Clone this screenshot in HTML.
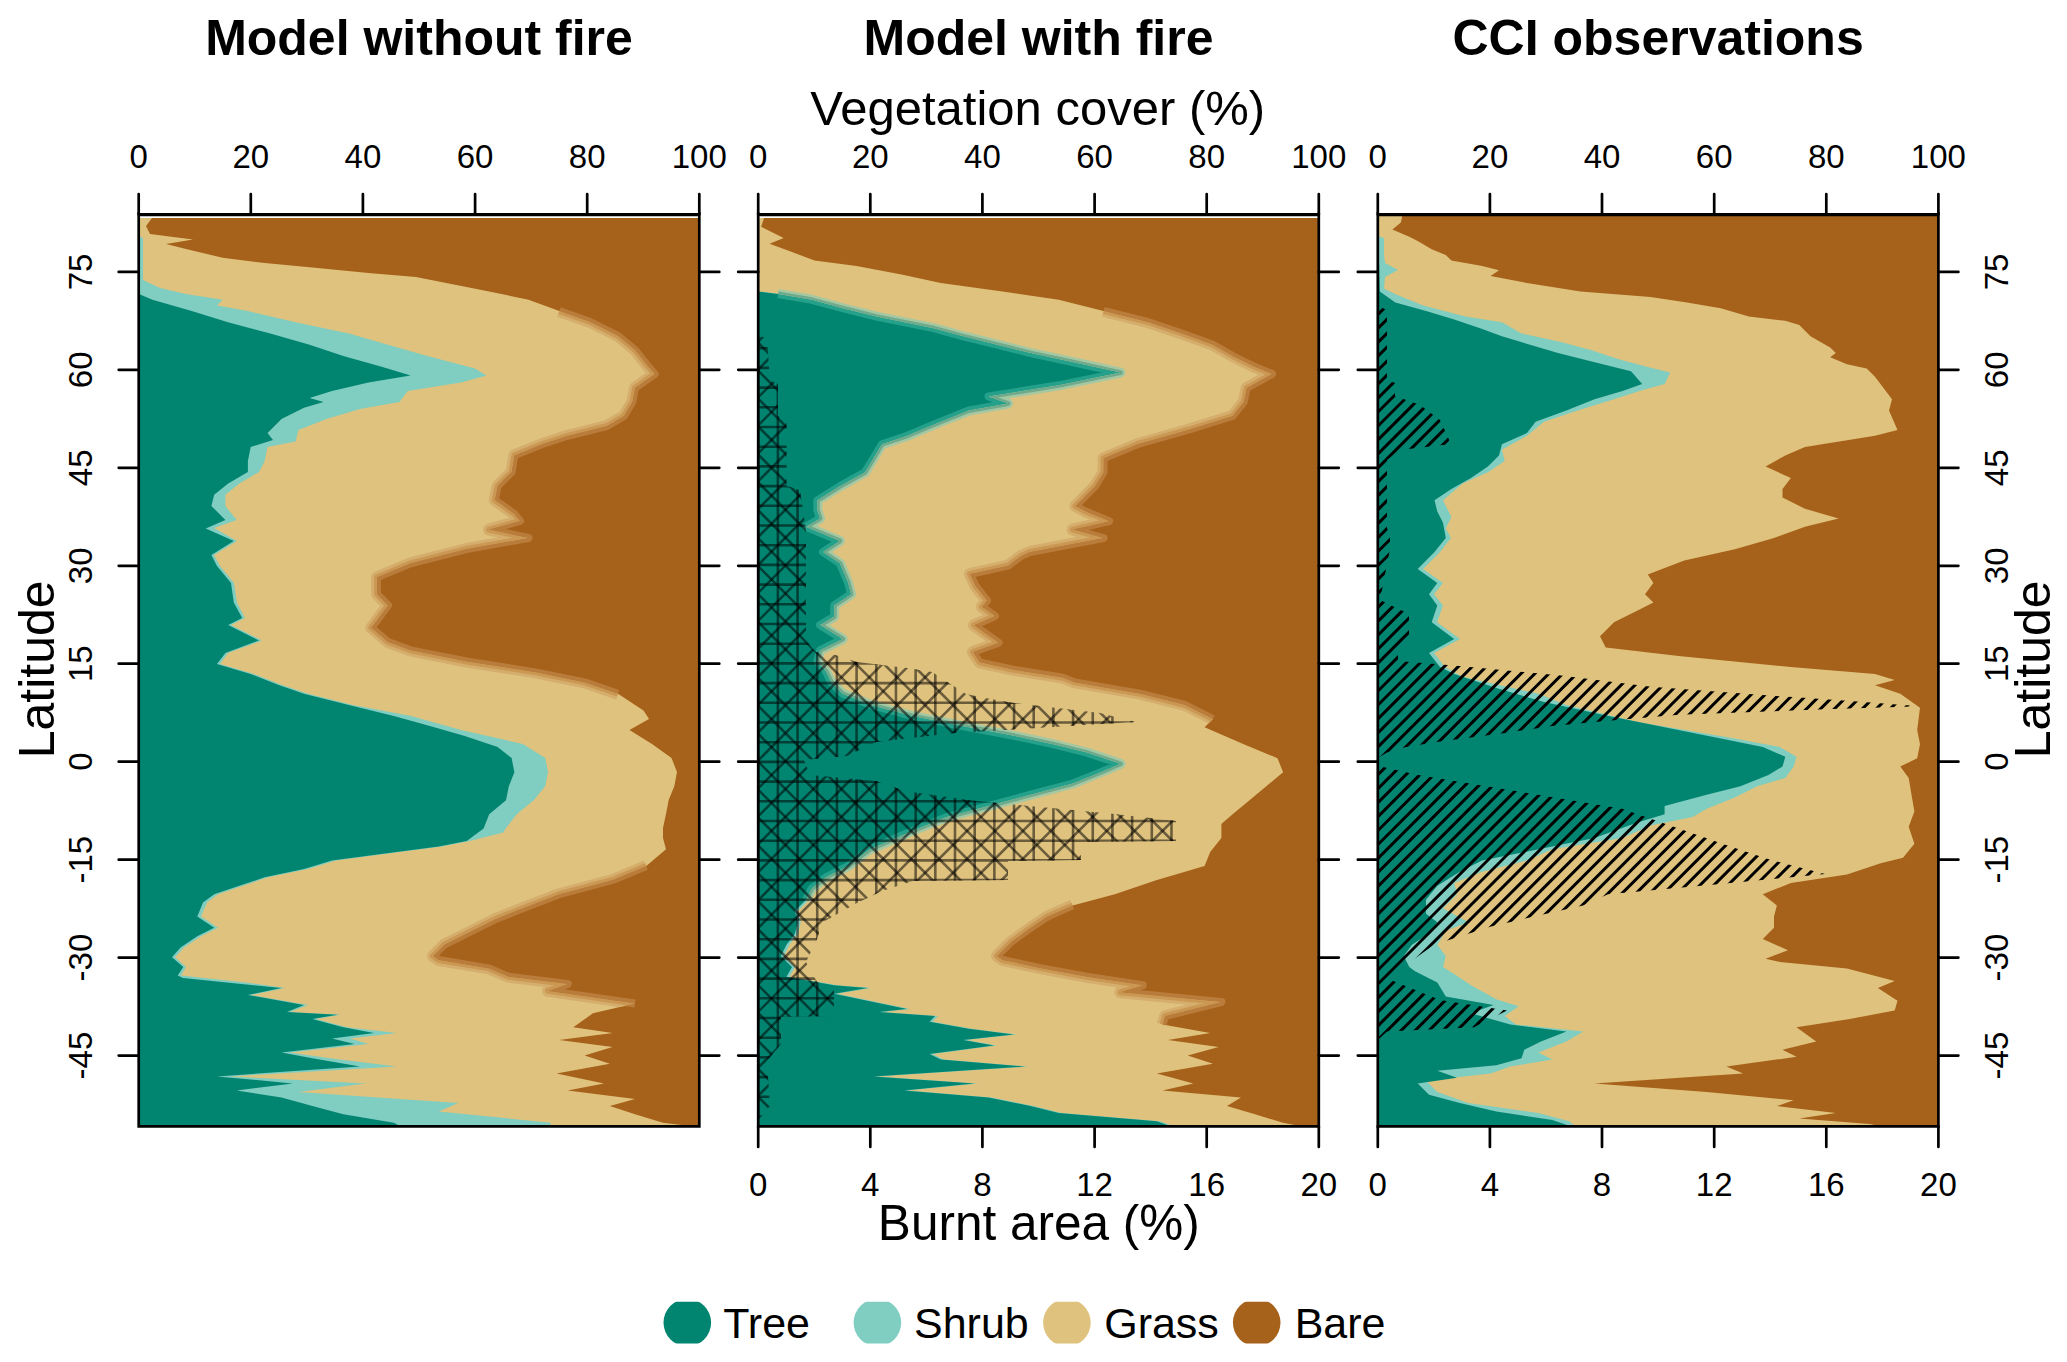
<!DOCTYPE html><html><head><meta charset="utf-8"><style>html,body{margin:0;padding:0;background:#fff;overflow:hidden}svg{display:block}</style></head><body>
<svg width="2067" height="1362" viewBox="0 0 2067 1362" font-family="'Liberation Sans', sans-serif">
<rect width="2067" height="1362" fill="#fff"/>
<clipPath id="pc0"><rect x="138.7" y="218" width="560.6" height="908.4000000000001"/></clipPath>
<rect x="138.7" y="218" width="560.6" height="908.4000000000001" fill="#A6611A"/>
<polygon points="138.7,218.0 152.0,218.0 146.0,226.0 150.0,234.0 193.0,239.5 166.0,244.0 186.0,249.0 222.6,257.7 264.7,263.0 312.4,267.5 368.5,273.0 416.0,277.0 438.7,281.6 489.2,291.4 528.5,299.8 559.3,311.0 590.2,322.0 618.2,336.0 635.0,350.0 646.3,364.3 654.7,374.0 635.0,388.0 632.3,402.0 624.0,416.0 607.0,426.0 567.7,435.8 542.5,444.0 514.4,455.4 511.6,472.0 497.6,486.0 494.8,500.0 514.4,514.0 520.0,521.0 489.0,529.6 528.5,538.0 466.7,549.0 410.6,563.3 377.0,577.3 377.0,594.0 388.0,605.4 371.3,627.8 388.0,642.0 410.6,650.3 466.7,661.5 537.0,672.6 584.6,682.4 618.0,693.7 643.5,710.5 649.0,719.0 629.5,730.0 652.0,744.0 671.5,758.0 677.0,772.0 674.4,786.0 668.7,800.0 666.0,814.0 663.0,828.0 663.0,838.0 666.0,849.3 646.3,866.0 612.6,880.0 559.3,894.2 522.8,908.2 494.8,919.4 466.7,933.5 444.3,944.7 433.0,956.0 438.7,960.0 489.0,968.4 508.8,976.8 567.7,983.9 548.0,990.9 635.0,1003.5 593.0,1013.3 573.3,1027.3 612.6,1033.0 559.3,1040.0 612.6,1047.0 584.6,1055.4 609.8,1063.8 556.5,1073.6 604.0,1083.5 567.7,1090.5 635.0,1098.9 609.8,1106.0 635.0,1114.3 663.0,1122.7 690.0,1126.0 138.7,1126.0" fill="#DFC27D" />
<clipPath id="gs0"><polygon points="138.7,217.0 152.0,218.0 146.0,226.0 150.0,234.0 193.0,239.5 166.0,244.0 186.0,249.0 222.6,257.7 264.7,263.0 312.4,267.5 368.5,273.0 416.0,277.0 438.7,281.6 489.2,291.4 528.5,299.8 559.3,311.0 590.2,322.0 618.2,336.0 635.0,350.0 646.3,364.3 654.7,374.0 635.0,388.0 632.3,402.0 624.0,416.0 607.0,426.0 567.7,435.8 542.5,444.0 514.4,455.4 511.6,472.0 497.6,486.0 494.8,500.0 514.4,514.0 520.0,521.0 489.0,529.6 528.5,538.0 466.7,549.0 410.6,563.3 377.0,577.3 377.0,594.0 388.0,605.4 371.3,627.8 388.0,642.0 410.6,650.3 466.7,661.5 537.0,672.6 584.6,682.4 618.0,693.7 643.5,710.5 649.0,719.0 629.5,730.0 652.0,744.0 671.5,758.0 677.0,772.0 674.4,786.0 668.7,800.0 666.0,814.0 663.0,828.0 663.0,838.0 666.0,849.3 646.3,866.0 612.6,880.0 559.3,894.2 522.8,908.2 494.8,919.4 466.7,933.5 444.3,944.7 433.0,956.0 438.7,960.0 489.0,968.4 508.8,976.8 567.7,983.9 548.0,990.9 635.0,1003.5 593.0,1013.3 573.3,1027.3 612.6,1033.0 559.3,1040.0 612.6,1047.0 584.6,1055.4 609.8,1063.8 556.5,1073.6 604.0,1083.5 567.7,1090.5 635.0,1098.9 609.8,1106.0 635.0,1114.3 663.0,1122.7 690.0,1126.0 138.7,1127.0"/></clipPath><clipPath id="bs0"><polygon points="699.3,217.0 152.0,218.0 146.0,226.0 150.0,234.0 193.0,239.5 166.0,244.0 186.0,249.0 222.6,257.7 264.7,263.0 312.4,267.5 368.5,273.0 416.0,277.0 438.7,281.6 489.2,291.4 528.5,299.8 559.3,311.0 590.2,322.0 618.2,336.0 635.0,350.0 646.3,364.3 654.7,374.0 635.0,388.0 632.3,402.0 624.0,416.0 607.0,426.0 567.7,435.8 542.5,444.0 514.4,455.4 511.6,472.0 497.6,486.0 494.8,500.0 514.4,514.0 520.0,521.0 489.0,529.6 528.5,538.0 466.7,549.0 410.6,563.3 377.0,577.3 377.0,594.0 388.0,605.4 371.3,627.8 388.0,642.0 410.6,650.3 466.7,661.5 537.0,672.6 584.6,682.4 618.0,693.7 643.5,710.5 649.0,719.0 629.5,730.0 652.0,744.0 671.5,758.0 677.0,772.0 674.4,786.0 668.7,800.0 666.0,814.0 663.0,828.0 663.0,838.0 666.0,849.3 646.3,866.0 612.6,880.0 559.3,894.2 522.8,908.2 494.8,919.4 466.7,933.5 444.3,944.7 433.0,956.0 438.7,960.0 489.0,968.4 508.8,976.8 567.7,983.9 548.0,990.9 635.0,1003.5 593.0,1013.3 573.3,1027.3 612.6,1033.0 559.3,1040.0 612.6,1047.0 584.6,1055.4 609.8,1063.8 556.5,1073.6 604.0,1083.5 567.7,1090.5 635.0,1098.9 609.8,1106.0 635.0,1114.3 663.0,1122.7 690.0,1126.0 699.3,1127.0"/></clipPath>
<g clip-path="url(#pc0)"><g clip-path="url(#gs0)"><polyline points="559.3,311.0 590.2,322.0 618.2,336.0 635.0,350.0 646.3,364.3 654.7,374.0 635.0,388.0 632.3,402.0 624.0,416.0 607.0,426.0 567.7,435.8 542.5,444.0 514.4,455.4 511.6,472.0 497.6,486.0 494.8,500.0 514.4,514.0 520.0,521.0 489.0,529.6 528.5,538.0 466.7,549.0 410.6,563.3 377.0,577.3 377.0,594.0 388.0,605.4 371.3,627.8 388.0,642.0 410.6,650.3 466.7,661.5 537.0,672.6 584.6,682.4 618.0,693.7" fill="none" stroke="#D5AE6D" stroke-width="12" stroke-linejoin="round"/><polyline points="559.3,311.0 590.2,322.0 618.2,336.0 635.0,350.0 646.3,364.3 654.7,374.0 635.0,388.0 632.3,402.0 624.0,416.0 607.0,426.0 567.7,435.8 542.5,444.0 514.4,455.4 511.6,472.0 497.6,486.0 494.8,500.0 514.4,514.0 520.0,521.0 489.0,529.6 528.5,538.0 466.7,549.0 410.6,563.3 377.0,577.3 377.0,594.0 388.0,605.4 371.3,627.8 388.0,642.0 410.6,650.3 466.7,661.5 537.0,672.6 584.6,682.4 618.0,693.7" fill="none" stroke="#CA9853" stroke-width="6" stroke-linejoin="round"/></g><g clip-path="url(#bs0)"><polyline points="559.3,311.0 590.2,322.0 618.2,336.0 635.0,350.0 646.3,364.3 654.7,374.0 635.0,388.0 632.3,402.0 624.0,416.0 607.0,426.0 567.7,435.8 542.5,444.0 514.4,455.4 511.6,472.0 497.6,486.0 494.8,500.0 514.4,514.0 520.0,521.0 489.0,529.6 528.5,538.0 466.7,549.0 410.6,563.3 377.0,577.3 377.0,594.0 388.0,605.4 371.3,627.8 388.0,642.0 410.6,650.3 466.7,661.5 537.0,672.6 584.6,682.4 618.0,693.7" fill="none" stroke="#B97C3B" stroke-width="8" stroke-linejoin="round"/></g></g>
<g clip-path="url(#pc0)"><g clip-path="url(#gs0)"><polyline points="646.3,866.0 612.6,880.0 559.3,894.2 522.8,908.2 494.8,919.4 466.7,933.5 444.3,944.7 433.0,956.0 438.7,960.0 489.0,968.4 508.8,976.8 567.7,983.9 548.0,990.9 635.0,1003.5" fill="none" stroke="#D5AE6D" stroke-width="12" stroke-linejoin="round"/><polyline points="646.3,866.0 612.6,880.0 559.3,894.2 522.8,908.2 494.8,919.4 466.7,933.5 444.3,944.7 433.0,956.0 438.7,960.0 489.0,968.4 508.8,976.8 567.7,983.9 548.0,990.9 635.0,1003.5" fill="none" stroke="#CA9853" stroke-width="6" stroke-linejoin="round"/></g><g clip-path="url(#bs0)"><polyline points="646.3,866.0 612.6,880.0 559.3,894.2 522.8,908.2 494.8,919.4 466.7,933.5 444.3,944.7 433.0,956.0 438.7,960.0 489.0,968.4 508.8,976.8 567.7,983.9 548.0,990.9 635.0,1003.5" fill="none" stroke="#B97C3B" stroke-width="8" stroke-linejoin="round"/></g></g>
<polygon points="138.7,218.0 139.0,218.0 139.0,236.0 143.0,238.0 143.0,280.0 160.0,288.0 186.0,294.0 222.6,299.8 217.0,305.4 247.9,311.0 295.6,322.2 348.9,333.5 388.0,344.7 427.4,356.0 475.0,368.4 486.4,375.4 461.0,382.4 407.8,390.9 399.4,402.0 360.0,409.0 326.4,418.9 298.4,430.0 295.6,441.4 267.5,447.0 264.7,461.0 259.0,472.0 239.4,483.5 225.4,494.7 225.4,506.0 236.6,520.0 214.0,528.0 237.0,540.9 214.0,555.0 220.0,566.0 234.0,583.0 237.0,602.6 245.0,618.0 231.0,625.0 262.0,640.5 228.0,653.0 220.0,664.0 254.0,674.0 282.0,685.0 308.0,693.7 353.0,705.0 411.0,716.0 461.0,730.0 522.8,744.0 545.3,758.0 548.0,772.0 545.3,786.0 534.0,800.0 517.0,814.0 506.0,828.0 503.2,832.4 470.0,840.9 442.0,846.5 400.0,852.0 336.0,860.5 308.0,869.0 268.0,877.3 243.0,885.8 218.0,894.2 207.0,902.6 201.0,916.6 218.0,927.8 201.0,936.3 184.0,947.5 175.0,957.3 186.0,967.0 181.0,975.5 246.0,982.4 285.0,988.0 251.0,995.0 308.0,1005.0 290.0,1012.0 341.0,1014.7 316.0,1019.0 347.0,1027.3 396.6,1033.0 350.0,1038.6 368.5,1044.0 290.0,1052.6 330.0,1058.2 396.6,1066.6 230.0,1076.4 365.7,1083.5 298.4,1092.0 458.3,1103.0 438.7,1111.5 550.9,1122.7 550.0,1126.0 138.7,1126.0" fill="#80CDC1" />
<polygon points="138.7,218.0 139.0,218.0 139.0,294.0 152.4,299.8 191.7,311.0 228.0,322.2 270.3,333.5 309.6,344.7 343.3,356.0 382.5,367.0 410.6,375.4 368.5,382.4 332.0,390.9 309.6,397.9 323.6,402.0 304.0,407.7 281.5,418.9 267.5,433.0 273.0,440.0 250.7,447.0 247.9,461.0 247.9,472.0 228.2,483.5 214.2,494.7 211.4,505.9 225.4,520.0 205.8,528.4 233.8,540.9 211.4,555.0 217.0,566.0 231.0,583.0 233.8,602.6 242.2,618.0 228.2,625.0 259.0,640.5 225.4,653.0 217.0,664.0 250.7,674.0 278.7,685.0 304.0,693.7 348.9,705.0 393.8,716.0 424.6,724.5 464.0,735.8 497.6,747.0 511.6,758.0 514.4,772.2 508.8,786.3 506.0,800.3 489.2,814.3 483.6,828.4 466.7,840.9 438.7,846.5 396.6,852.0 332.0,860.5 304.0,869.0 264.7,877.3 239.4,885.8 214.2,894.2 203.0,902.6 197.3,916.6 214.2,927.8 197.3,936.3 180.5,947.5 172.0,957.3 183.3,967.0 177.7,975.5 183.0,978.0 281.5,988.0 247.9,995.0 304.0,1005.0 287.0,1012.0 337.6,1014.7 312.4,1019.0 343.3,1027.3 374.0,1033.0 332.0,1038.6 354.5,1044.0 281.5,1052.6 312.4,1058.2 360.0,1066.6 217.0,1076.4 292.7,1083.5 236.6,1090.5 281.5,1097.5 312.4,1106.0 343.3,1114.3 393.8,1122.7 400.0,1126.0 138.7,1126.0" fill="#018571" />
<clipPath id="pc1"><rect x="758.2" y="218" width="560.6" height="908.4000000000001"/></clipPath>
<rect x="758.2" y="218" width="560.6" height="908.4000000000001" fill="#A6611A"/>
<polygon points="758.2,218.0 764.0,218.0 761.2,226.8 783.7,238.0 769.6,243.7 792.0,252.0 814.5,260.5 856.6,266.0 901.5,274.5 940.8,283.0 1002.5,291.4 1058.7,299.8 1103.6,311.0 1148.5,322.2 1182.0,333.5 1213.0,344.7 1232.6,356.0 1255.0,367.0 1272.0,374.0 1246.7,388.0 1243.8,402.0 1232.6,416.0 1187.7,430.0 1137.2,444.2 1103.6,458.2 1103.6,472.2 1095.0,486.3 1075.5,506.0 1086.7,512.0 1109.2,521.2 1072.7,529.6 1103.6,538.0 1030.0,552.0 1022.0,555.4 1008.0,565.7 970.0,574.0 975.5,586.0 987.0,600.6 982.0,606.8 995.0,616.0 974.0,625.3 998.6,642.8 973.0,652.0 979.6,662.3 1012.0,669.5 1063.0,677.7 1075.0,682.4 1140.0,693.7 1185.0,705.0 1213.0,719.0 1204.6,727.3 1243.8,744.2 1277.5,758.2 1283.1,772.2 1266.3,786.3 1249.5,800.3 1232.6,814.3 1221.4,824.0 1221.4,838.0 1210.2,852.0 1204.6,866.0 1156.9,880.0 1114.8,894.2 1072.7,905.4 1047.4,916.6 1030.6,927.8 1011.0,942.0 997.0,956.0 1002.5,960.0 1041.8,968.4 1086.7,976.8 1142.8,985.3 1120.4,992.3 1221.4,1002.0 1165.3,1016.0 1162.5,1024.5 1210.2,1033.0 1168.0,1040.0 1218.6,1047.0 1187.7,1055.4 1213.0,1063.8 1156.9,1073.6 1193.3,1083.5 1162.5,1090.5 1241.0,1097.5 1227.0,1106.0 1255.0,1114.3 1283.0,1122.7 1300.0,1126.0 758.2,1126.0" fill="#DFC27D" />
<clipPath id="gs1"><polygon points="758.2,217.0 764.0,218.0 761.2,226.8 783.7,238.0 769.6,243.7 792.0,252.0 814.5,260.5 856.6,266.0 901.5,274.5 940.8,283.0 1002.5,291.4 1058.7,299.8 1103.6,311.0 1148.5,322.2 1182.0,333.5 1213.0,344.7 1232.6,356.0 1255.0,367.0 1272.0,374.0 1246.7,388.0 1243.8,402.0 1232.6,416.0 1187.7,430.0 1137.2,444.2 1103.6,458.2 1103.6,472.2 1095.0,486.3 1075.5,506.0 1086.7,512.0 1109.2,521.2 1072.7,529.6 1103.6,538.0 1030.0,552.0 1022.0,555.4 1008.0,565.7 970.0,574.0 975.5,586.0 987.0,600.6 982.0,606.8 995.0,616.0 974.0,625.3 998.6,642.8 973.0,652.0 979.6,662.3 1012.0,669.5 1063.0,677.7 1075.0,682.4 1140.0,693.7 1185.0,705.0 1213.0,719.0 1204.6,727.3 1243.8,744.2 1277.5,758.2 1283.1,772.2 1266.3,786.3 1249.5,800.3 1232.6,814.3 1221.4,824.0 1221.4,838.0 1210.2,852.0 1204.6,866.0 1156.9,880.0 1114.8,894.2 1072.7,905.4 1047.4,916.6 1030.6,927.8 1011.0,942.0 997.0,956.0 1002.5,960.0 1041.8,968.4 1086.7,976.8 1142.8,985.3 1120.4,992.3 1221.4,1002.0 1165.3,1016.0 1162.5,1024.5 1210.2,1033.0 1168.0,1040.0 1218.6,1047.0 1187.7,1055.4 1213.0,1063.8 1156.9,1073.6 1193.3,1083.5 1162.5,1090.5 1241.0,1097.5 1227.0,1106.0 1255.0,1114.3 1283.0,1122.7 1300.0,1126.0 758.2,1127.0"/></clipPath><clipPath id="bs1"><polygon points="1318.8,217.0 764.0,218.0 761.2,226.8 783.7,238.0 769.6,243.7 792.0,252.0 814.5,260.5 856.6,266.0 901.5,274.5 940.8,283.0 1002.5,291.4 1058.7,299.8 1103.6,311.0 1148.5,322.2 1182.0,333.5 1213.0,344.7 1232.6,356.0 1255.0,367.0 1272.0,374.0 1246.7,388.0 1243.8,402.0 1232.6,416.0 1187.7,430.0 1137.2,444.2 1103.6,458.2 1103.6,472.2 1095.0,486.3 1075.5,506.0 1086.7,512.0 1109.2,521.2 1072.7,529.6 1103.6,538.0 1030.0,552.0 1022.0,555.4 1008.0,565.7 970.0,574.0 975.5,586.0 987.0,600.6 982.0,606.8 995.0,616.0 974.0,625.3 998.6,642.8 973.0,652.0 979.6,662.3 1012.0,669.5 1063.0,677.7 1075.0,682.4 1140.0,693.7 1185.0,705.0 1213.0,719.0 1204.6,727.3 1243.8,744.2 1277.5,758.2 1283.1,772.2 1266.3,786.3 1249.5,800.3 1232.6,814.3 1221.4,824.0 1221.4,838.0 1210.2,852.0 1204.6,866.0 1156.9,880.0 1114.8,894.2 1072.7,905.4 1047.4,916.6 1030.6,927.8 1011.0,942.0 997.0,956.0 1002.5,960.0 1041.8,968.4 1086.7,976.8 1142.8,985.3 1120.4,992.3 1221.4,1002.0 1165.3,1016.0 1162.5,1024.5 1210.2,1033.0 1168.0,1040.0 1218.6,1047.0 1187.7,1055.4 1213.0,1063.8 1156.9,1073.6 1193.3,1083.5 1162.5,1090.5 1241.0,1097.5 1227.0,1106.0 1255.0,1114.3 1283.0,1122.7 1300.0,1126.0 1318.8,1127.0"/></clipPath>
<g clip-path="url(#pc1)"><g clip-path="url(#gs1)"><polyline points="1103.6,311.0 1148.5,322.2 1182.0,333.5 1213.0,344.7 1232.6,356.0 1255.0,367.0 1272.0,374.0 1246.7,388.0 1243.8,402.0 1232.6,416.0 1187.7,430.0 1137.2,444.2 1103.6,458.2 1103.6,472.2 1095.0,486.3 1075.5,506.0 1086.7,512.0 1109.2,521.2 1072.7,529.6 1103.6,538.0 1030.0,552.0 1022.0,555.4 1008.0,565.7 970.0,574.0 975.5,586.0 987.0,600.6 982.0,606.8 995.0,616.0 974.0,625.3 998.6,642.8 973.0,652.0 979.6,662.3 1012.0,669.5 1063.0,677.7 1075.0,682.4 1140.0,693.7 1185.0,705.0 1213.0,719.0" fill="none" stroke="#D5AE6D" stroke-width="12" stroke-linejoin="round"/><polyline points="1103.6,311.0 1148.5,322.2 1182.0,333.5 1213.0,344.7 1232.6,356.0 1255.0,367.0 1272.0,374.0 1246.7,388.0 1243.8,402.0 1232.6,416.0 1187.7,430.0 1137.2,444.2 1103.6,458.2 1103.6,472.2 1095.0,486.3 1075.5,506.0 1086.7,512.0 1109.2,521.2 1072.7,529.6 1103.6,538.0 1030.0,552.0 1022.0,555.4 1008.0,565.7 970.0,574.0 975.5,586.0 987.0,600.6 982.0,606.8 995.0,616.0 974.0,625.3 998.6,642.8 973.0,652.0 979.6,662.3 1012.0,669.5 1063.0,677.7 1075.0,682.4 1140.0,693.7 1185.0,705.0 1213.0,719.0" fill="none" stroke="#CA9853" stroke-width="6" stroke-linejoin="round"/></g><g clip-path="url(#bs1)"><polyline points="1103.6,311.0 1148.5,322.2 1182.0,333.5 1213.0,344.7 1232.6,356.0 1255.0,367.0 1272.0,374.0 1246.7,388.0 1243.8,402.0 1232.6,416.0 1187.7,430.0 1137.2,444.2 1103.6,458.2 1103.6,472.2 1095.0,486.3 1075.5,506.0 1086.7,512.0 1109.2,521.2 1072.7,529.6 1103.6,538.0 1030.0,552.0 1022.0,555.4 1008.0,565.7 970.0,574.0 975.5,586.0 987.0,600.6 982.0,606.8 995.0,616.0 974.0,625.3 998.6,642.8 973.0,652.0 979.6,662.3 1012.0,669.5 1063.0,677.7 1075.0,682.4 1140.0,693.7 1185.0,705.0 1213.0,719.0" fill="none" stroke="#B97C3B" stroke-width="8" stroke-linejoin="round"/></g></g>
<g clip-path="url(#pc1)"><g clip-path="url(#gs1)"><polyline points="1072.7,905.4 1047.4,916.6 1030.6,927.8 1011.0,942.0 997.0,956.0 1002.5,960.0 1041.8,968.4 1086.7,976.8 1142.8,985.3 1120.4,992.3 1221.4,1002.0 1165.3,1016.0 1162.5,1024.5" fill="none" stroke="#D5AE6D" stroke-width="12" stroke-linejoin="round"/><polyline points="1072.7,905.4 1047.4,916.6 1030.6,927.8 1011.0,942.0 997.0,956.0 1002.5,960.0 1041.8,968.4 1086.7,976.8 1142.8,985.3 1120.4,992.3 1221.4,1002.0 1165.3,1016.0 1162.5,1024.5" fill="none" stroke="#CA9853" stroke-width="6" stroke-linejoin="round"/></g><g clip-path="url(#bs1)"><polyline points="1072.7,905.4 1047.4,916.6 1030.6,927.8 1011.0,942.0 997.0,956.0 1002.5,960.0 1041.8,968.4 1086.7,976.8 1142.8,985.3 1120.4,992.3 1221.4,1002.0 1165.3,1016.0 1162.5,1024.5" fill="none" stroke="#B97C3B" stroke-width="8" stroke-linejoin="round"/></g></g>
<polygon points="758.2,218.0 758.2,218.0 758.4,291.4 781.0,294.0 814.7,299.8 845.6,308.2 879.3,316.6 935.4,327.9 966.3,336.3 1000.0,344.7 1033.6,353.1 1072.9,361.5 1123.4,372.6 1061.7,385.3 991.5,396.5 1011.0,403.5 971.9,410.5 943.8,421.7 910.1,435.8 884.9,444.2 876.5,458.2 868.0,472.2 842.8,486.3 820.3,500.3 820.3,510.0 823.0,518.4 809.0,526.8 842.8,540.9 826.0,552.0 842.8,563.3 851.2,583.0 854.0,594.2 837.2,605.4 837.2,616.6 823.0,625.0 845.6,639.0 823.0,650.3 820.3,661.5 828.8,671.2 834.4,682.4 845.6,693.7 876.7,705.0 918.7,716.1 974.9,727.3 1019.8,735.8 1059.0,744.2 1092.7,752.6 1126.4,763.8 1106.8,772.2 1078.7,783.5 1036.6,794.7 994.5,806.0 952.4,817.1 924.4,828.4 899.0,838.0 873.0,849.3 865.2,855.0 851.2,866.0 828.8,877.3 814.7,888.6 809.0,899.8 798.0,911.0 800.7,922.2 798.0,933.5 789.5,944.7 783.9,956.0 795.0,967.0 789.5,976.8 837.2,985.3 870.9,988.0 837.2,993.7 876.5,1002.0 910.0,1009.0 882.0,1012.0 938.0,1016.0 932.6,1021.7 971.9,1028.7 1016.8,1034.4 966.3,1040.0 997.0,1045.6 932.6,1054.0 943.8,1059.6 1028.0,1066.6 876.5,1076.4 977.5,1083.5 907.3,1090.5 991.5,1097.5 1033.6,1106.0 1061.7,1113.0 1159.9,1121.3 1173.0,1126.0 758.2,1126.0" fill="#80CDC1" />
<polygon points="758.2,218.0 758.2,218.0 758.4,291.4 778.0,294.0 811.7,299.8 842.6,308.2 876.3,316.6 932.4,327.9 963.3,336.3 997.0,344.7 1030.6,353.1 1069.9,361.5 1120.4,372.6 1058.7,385.3 988.5,396.5 1008.0,403.5 968.9,410.5 940.8,421.7 907.1,435.8 881.9,444.2 873.5,458.2 865.0,472.2 839.8,486.3 817.3,500.3 817.3,510.0 820.0,518.4 806.0,526.8 839.8,540.9 823.0,552.0 839.8,563.3 848.2,583.0 851.0,594.2 834.2,605.4 834.2,616.6 820.0,625.0 842.6,639.0 820.0,650.3 817.3,661.5 825.8,671.2 831.4,682.4 842.6,693.7 870.7,705.0 912.7,716.1 968.9,727.3 1013.8,735.8 1053.0,744.2 1086.7,752.6 1120.4,763.8 1100.8,772.2 1072.7,783.5 1030.6,794.7 988.5,806.0 946.4,817.1 918.4,828.4 896.0,838.0 870.0,849.3 862.2,855.0 848.2,866.0 825.8,877.3 811.7,888.6 806.0,899.8 795.0,911.0 797.7,922.2 795.0,933.5 786.5,944.7 780.9,956.0 792.0,967.0 786.5,976.8 834.2,985.3 867.9,988.0 834.2,993.7 873.5,1002.0 907.0,1009.0 879.0,1012.0 935.0,1016.0 929.6,1021.7 968.9,1028.7 1013.8,1034.4 963.3,1040.0 994.0,1045.6 929.6,1054.0 940.8,1059.6 1025.0,1066.6 873.5,1076.4 974.5,1083.5 904.3,1090.5 988.5,1097.5 1030.6,1106.0 1058.7,1113.0 1156.9,1121.3 1170.0,1126.0 758.2,1126.0" fill="#018571" />
<clipPath id="ti1"><polygon points="758.2,217.0 758.2,218.0 758.4,291.4 778.0,294.0 811.7,299.8 842.6,308.2 876.3,316.6 932.4,327.9 963.3,336.3 997.0,344.7 1030.6,353.1 1069.9,361.5 1120.4,372.6 1058.7,385.3 988.5,396.5 1008.0,403.5 968.9,410.5 940.8,421.7 907.1,435.8 881.9,444.2 873.5,458.2 865.0,472.2 839.8,486.3 817.3,500.3 817.3,510.0 820.0,518.4 806.0,526.8 839.8,540.9 823.0,552.0 839.8,563.3 848.2,583.0 851.0,594.2 834.2,605.4 834.2,616.6 820.0,625.0 842.6,639.0 820.0,650.3 817.3,661.5 825.8,671.2 831.4,682.4 842.6,693.7 870.7,705.0 912.7,716.1 968.9,727.3 1013.8,735.8 1053.0,744.2 1086.7,752.6 1120.4,763.8 1100.8,772.2 1072.7,783.5 1030.6,794.7 988.5,806.0 946.4,817.1 918.4,828.4 896.0,838.0 870.0,849.3 862.2,855.0 848.2,866.0 825.8,877.3 811.7,888.6 806.0,899.8 795.0,911.0 797.7,922.2 795.0,933.5 786.5,944.7 780.9,956.0 792.0,967.0 786.5,976.8 834.2,985.3 867.9,988.0 834.2,993.7 873.5,1002.0 907.0,1009.0 879.0,1012.0 935.0,1016.0 929.6,1021.7 968.9,1028.7 1013.8,1034.4 963.3,1040.0 994.0,1045.6 929.6,1054.0 940.8,1059.6 1025.0,1066.6 873.5,1076.4 974.5,1083.5 904.3,1090.5 988.5,1097.5 1030.6,1106.0 1058.7,1113.0 1156.9,1121.3 1170.0,1126.0 758.2,1127.0"/></clipPath><clipPath id="to1"><polygon points="1318.8,217.0 758.2,218.0 758.4,291.4 778.0,294.0 811.7,299.8 842.6,308.2 876.3,316.6 932.4,327.9 963.3,336.3 997.0,344.7 1030.6,353.1 1069.9,361.5 1120.4,372.6 1058.7,385.3 988.5,396.5 1008.0,403.5 968.9,410.5 940.8,421.7 907.1,435.8 881.9,444.2 873.5,458.2 865.0,472.2 839.8,486.3 817.3,500.3 817.3,510.0 820.0,518.4 806.0,526.8 839.8,540.9 823.0,552.0 839.8,563.3 848.2,583.0 851.0,594.2 834.2,605.4 834.2,616.6 820.0,625.0 842.6,639.0 820.0,650.3 817.3,661.5 825.8,671.2 831.4,682.4 842.6,693.7 870.7,705.0 912.7,716.1 968.9,727.3 1013.8,735.8 1053.0,744.2 1086.7,752.6 1120.4,763.8 1100.8,772.2 1072.7,783.5 1030.6,794.7 988.5,806.0 946.4,817.1 918.4,828.4 896.0,838.0 870.0,849.3 862.2,855.0 848.2,866.0 825.8,877.3 811.7,888.6 806.0,899.8 795.0,911.0 797.7,922.2 795.0,933.5 786.5,944.7 780.9,956.0 792.0,967.0 786.5,976.8 834.2,985.3 867.9,988.0 834.2,993.7 873.5,1002.0 907.0,1009.0 879.0,1012.0 935.0,1016.0 929.6,1021.7 968.9,1028.7 1013.8,1034.4 963.3,1040.0 994.0,1045.6 929.6,1054.0 940.8,1059.6 1025.0,1066.6 873.5,1076.4 974.5,1083.5 904.3,1090.5 988.5,1097.5 1030.6,1106.0 1058.7,1113.0 1156.9,1121.3 1170.0,1126.0 1318.8,1127.0"/></clipPath>
<g clip-path="url(#pc1)"><g clip-path="url(#ti1)"><polyline points="778.0,294.0 811.7,299.8 842.6,308.2 876.3,316.6 932.4,327.9 963.3,336.3 997.0,344.7 1030.6,353.1 1069.9,361.5 1120.4,372.6 1058.7,385.3 988.5,396.5 1008.0,403.5 968.9,410.5 940.8,421.7 907.1,435.8 881.9,444.2 873.5,458.2 865.0,472.2 839.8,486.3 817.3,500.3 817.3,510.0 820.0,518.4 806.0,526.8 839.8,540.9 823.0,552.0 839.8,563.3 848.2,583.0 851.0,594.2 834.2,605.4 834.2,616.6 820.0,625.0 842.6,639.0 820.0,650.3 817.3,661.5 825.8,671.2 831.4,682.4 842.6,693.7 870.7,705.0 912.7,716.1 968.9,727.3 1013.8,735.8 1053.0,744.2 1086.7,752.6 1120.4,763.8 1100.8,772.2 1072.7,783.5 1030.6,794.7 988.5,806.0 946.4,817.1 918.4,828.4 896.0,838.0 870.0,849.3 862.2,855.0 848.2,866.0 825.8,877.3 811.7,888.6 806.0,899.8" fill="none" stroke="#25A08A" stroke-width="8" stroke-linejoin="round"/></g><g clip-path="url(#to1)"><polyline points="778.0,294.0 811.7,299.8 842.6,308.2 876.3,316.6 932.4,327.9 963.3,336.3 997.0,344.7 1030.6,353.1 1069.9,361.5 1120.4,372.6 1058.7,385.3 988.5,396.5 1008.0,403.5 968.9,410.5 940.8,421.7 907.1,435.8 881.9,444.2 873.5,458.2 865.0,472.2 839.8,486.3 817.3,500.3 817.3,510.0 820.0,518.4 806.0,526.8 839.8,540.9 823.0,552.0 839.8,563.3 848.2,583.0 851.0,594.2 834.2,605.4 834.2,616.6 820.0,625.0 842.6,639.0 820.0,650.3 817.3,661.5 825.8,671.2 831.4,682.4 842.6,693.7 870.7,705.0 912.7,716.1 968.9,727.3 1013.8,735.8 1053.0,744.2 1086.7,752.6 1120.4,763.8 1100.8,772.2 1072.7,783.5 1030.6,794.7 988.5,806.0 946.4,817.1 918.4,828.4 896.0,838.0 870.0,849.3 862.2,855.0 848.2,866.0 825.8,877.3 811.7,888.6 806.0,899.8" fill="none" stroke="#A5C8A3" stroke-width="10" stroke-linejoin="round"/><polyline points="778.0,294.0 811.7,299.8 842.6,308.2 876.3,316.6 932.4,327.9 963.3,336.3 997.0,344.7 1030.6,353.1 1069.9,361.5 1120.4,372.6 1058.7,385.3 988.5,396.5 1008.0,403.5 968.9,410.5 940.8,421.7 907.1,435.8 881.9,444.2 873.5,458.2 865.0,472.2 839.8,486.3 817.3,500.3 817.3,510.0 820.0,518.4 806.0,526.8 839.8,540.9 823.0,552.0 839.8,563.3 848.2,583.0 851.0,594.2 834.2,605.4 834.2,616.6 820.0,625.0 842.6,639.0 820.0,650.3 817.3,661.5 825.8,671.2 831.4,682.4 842.6,693.7 870.7,705.0 912.7,716.1 968.9,727.3 1013.8,735.8 1053.0,744.2 1086.7,752.6 1120.4,763.8 1100.8,772.2 1072.7,783.5 1030.6,794.7 988.5,806.0 946.4,817.1 918.4,828.4 896.0,838.0 870.0,849.3 862.2,855.0 848.2,866.0 825.8,877.3 811.7,888.6 806.0,899.8" fill="none" stroke="#6EAA8B" stroke-width="5" stroke-linejoin="round"/></g></g>
<clipPath id="hc1"><polygon points="758.2,336.0 758.2,336.0 767.0,338.0 770.0,380.0 778.0,384.0 778.0,416.0 786.5,418.0 786.5,486.0 800.0,490.0 806.0,530.0 806.0,640.0 812.0,648.0 816.0,652.0 835.0,655.0 857.0,662.0 882.0,665.0 907.0,668.0 932.0,672.0 949.0,683.0 966.0,694.0 988.0,698.5 1014.0,703.0 1100.0,713.0 1135.0,722.0 955.0,733.0 876.0,742.0 847.0,756.0 804.0,760.0 810.0,775.0 876.0,781.0 905.0,791.0 972.0,800.6 1115.0,814.0 1176.0,821.0 1176.0,841.0 1081.0,842.0 1081.0,860.0 1008.0,861.0 1008.0,880.0 913.0,881.0 882.0,891.0 857.0,903.0 823.0,922.0 817.0,939.0 806.0,962.0 817.0,982.0 834.0,983.0 834.0,1016.0 781.0,1017.0 781.0,1044.0 767.0,1061.0 770.0,1106.0 761.0,1117.0 758.2,1120.0 758.2,1120.0"/></clipPath>
<g clip-path="url(#hc1)" stroke="rgba(0,0,0,0.52)" stroke-width="2.6" fill="none">
<path d="M758.20,218V1126.4M777.88,218V1126.4M797.56,218V1126.4M817.24,218V1126.4M836.92,218V1126.4M856.60,218V1126.4M876.28,218V1126.4M895.96,218V1126.4M915.64,218V1126.4M935.32,218V1126.4M955.00,218V1126.4M974.68,218V1126.4M994.36,218V1126.4M1014.04,218V1126.4M1033.72,218V1126.4M1053.40,218V1126.4M1073.08,218V1126.4M1092.76,218V1126.4M1112.44,218V1126.4M1132.12,218V1126.4M1151.80,218V1126.4M1171.48,218V1126.4M1191.16,218V1126.4M1210.84,218V1126.4M1230.52,218V1126.4M1250.20,218V1126.4M1269.88,218V1126.4M1289.56,218V1126.4M1309.24,218V1126.4"/>
<path d="M758.2,230.00H1318.8000000000002M758.2,249.70H1318.8000000000002M758.2,269.40H1318.8000000000002M758.2,289.10H1318.8000000000002M758.2,308.80H1318.8000000000002M758.2,328.50H1318.8000000000002M758.2,348.20H1318.8000000000002M758.2,367.90H1318.8000000000002M758.2,387.60H1318.8000000000002M758.2,407.30H1318.8000000000002M758.2,427.00H1318.8000000000002M758.2,446.70H1318.8000000000002M758.2,466.40H1318.8000000000002M758.2,486.10H1318.8000000000002M758.2,505.80H1318.8000000000002M758.2,525.50H1318.8000000000002M758.2,545.20H1318.8000000000002M758.2,564.90H1318.8000000000002M758.2,584.60H1318.8000000000002M758.2,604.30H1318.8000000000002M758.2,624.00H1318.8000000000002M758.2,643.70H1318.8000000000002M758.2,663.40H1318.8000000000002M758.2,683.10H1318.8000000000002M758.2,702.80H1318.8000000000002M758.2,722.50H1318.8000000000002M758.2,742.20H1318.8000000000002M758.2,761.90H1318.8000000000002M758.2,781.60H1318.8000000000002M758.2,801.30H1318.8000000000002M758.2,821.00H1318.8000000000002M758.2,840.70H1318.8000000000002M758.2,860.40H1318.8000000000002M758.2,880.10H1318.8000000000002M758.2,899.80H1318.8000000000002M758.2,919.50H1318.8000000000002M758.2,939.20H1318.8000000000002M758.2,958.90H1318.8000000000002M758.2,978.60H1318.8000000000002M758.2,998.30H1318.8000000000002M758.2,1018.00H1318.8000000000002M758.2,1037.70H1318.8000000000002M758.2,1057.40H1318.8000000000002M758.2,1077.10H1318.8000000000002M758.2,1096.80H1318.8000000000002M758.2,1116.50H1318.8000000000002M758.2,1136.20H1318.8000000000002"/>
<path d="M-766.2,218L-1674.6,1126.4M-738.3,218L-1646.7,1126.4M-710.3,218L-1618.7,1126.4M-682.4,218L-1590.8,1126.4M-654.5,218L-1562.9,1126.4M-626.5,218L-1535.0,1126.4M-598.6,218L-1507.0,1126.4M-570.7,218L-1479.1,1126.4M-542.8,218L-1451.2,1126.4M-514.8,218L-1423.2,1126.4M-486.9,218L-1395.3,1126.4M-459.0,218L-1367.4,1126.4M-431.0,218L-1339.4,1126.4M-403.1,218L-1311.5,1126.4M-375.2,218L-1283.6,1126.4M-347.2,218L-1255.7,1126.4M-319.3,218L-1227.7,1126.4M-291.4,218L-1199.8,1126.4M-263.5,218L-1171.9,1126.4M-235.5,218L-1143.9,1126.4M-207.6,218L-1116.0,1126.4M-179.7,218L-1088.1,1126.4M-151.7,218L-1060.1,1126.4M-123.8,218L-1032.2,1126.4M-95.9,218L-1004.3,1126.4M-68.0,218L-976.4,1126.4M-40.0,218L-948.4,1126.4M-12.1,218L-920.5,1126.4M15.8,218L-892.6,1126.4M43.8,218L-864.6,1126.4M71.7,218L-836.7,1126.4M99.6,218L-808.8,1126.4M127.6,218L-780.8,1126.4M155.5,218L-752.9,1126.4M183.4,218L-725.0,1126.4M211.4,218L-697.0,1126.4M239.3,218L-669.1,1126.4M267.2,218L-641.2,1126.4M295.1,218L-613.3,1126.4M323.1,218L-585.3,1126.4M351.0,218L-557.4,1126.4M378.9,218L-529.5,1126.4M406.9,218L-501.5,1126.4M434.8,218L-473.6,1126.4M462.7,218L-445.7,1126.4M490.7,218L-417.8,1126.4M518.6,218L-389.8,1126.4M546.5,218L-361.9,1126.4M574.4,218L-334.0,1126.4M602.4,218L-306.0,1126.4M630.3,218L-278.1,1126.4M658.2,218L-250.2,1126.4M686.2,218L-222.2,1126.4M714.1,218L-194.3,1126.4M742.0,218L-166.4,1126.4M770.0,218L-138.5,1126.4M797.9,218L-110.5,1126.4M825.8,218L-82.6,1126.4M853.7,218L-54.7,1126.4M881.7,218L-26.7,1126.4M909.6,218L1.2,1126.4M937.5,218L29.1,1126.4M965.5,218L57.1,1126.4M993.4,218L85.0,1126.4M1021.3,218L112.9,1126.4M1049.2,218L140.8,1126.4M1077.2,218L168.8,1126.4M1105.1,218L196.7,1126.4M1133.0,218L224.6,1126.4M1161.0,218L252.6,1126.4M1188.9,218L280.5,1126.4M1216.8,218L308.4,1126.4M1244.8,218L336.4,1126.4M1272.7,218L364.3,1126.4M1300.6,218L392.2,1126.4M1328.5,218L420.1,1126.4M1356.5,218L448.1,1126.4M1384.4,218L476.0,1126.4M1412.3,218L503.9,1126.4M1440.3,218L531.9,1126.4M1468.2,218L559.8,1126.4M1496.1,218L587.7,1126.4M1524.1,218L615.7,1126.4M1552.0,218L643.6,1126.4M1579.9,218L671.5,1126.4M1607.9,218L699.5,1126.4M1635.8,218L727.4,1126.4M1663.7,218L755.3,1126.4M1691.6,218L783.2,1126.4M1719.6,218L811.2,1126.4M1747.5,218L839.1,1126.4M1775.4,218L867.0,1126.4M1803.4,218L895.0,1126.4M1831.3,218L922.9,1126.4M1859.2,218L950.8,1126.4M1887.2,218L978.8,1126.4M1915.1,218L1006.7,1126.4M1943.0,218L1034.6,1126.4M1970.9,218L1062.5,1126.4M1998.9,218L1090.5,1126.4M2026.8,218L1118.4,1126.4M2054.7,218L1146.3,1126.4M2082.7,218L1174.3,1126.4M2110.6,218L1202.2,1126.4M2138.5,218L1230.1,1126.4M2166.4,218L1258.0,1126.4M2194.4,218L1286.0,1126.4M2222.3,218L1313.9,1126.4M2250.2,218L1341.8,1126.4M2278.2,218L1369.8,1126.4M2306.1,218L1397.7,1126.4M2334.0,218L1425.6,1126.4M2362.0,218L1453.6,1126.4M2389.9,218L1481.5,1126.4M2417.8,218L1509.4,1126.4M2445.8,218L1537.3,1126.4M2473.7,218L1565.3,1126.4M2501.6,218L1593.2,1126.4M2529.5,218L1621.1,1126.4M2557.5,218L1649.1,1126.4M2585.4,218L1677.0,1126.4M2613.3,218L1704.9,1126.4M2641.3,218L1732.9,1126.4M2669.2,218L1760.8,1126.4M2697.1,218L1788.7,1126.4M2725.1,218L1816.7,1126.4M2753.0,218L1844.6,1126.4M2780.9,218L1872.5,1126.4M2808.8,218L1900.4,1126.4M2836.8,218L1928.4,1126.4M2864.7,218L1956.3,1126.4M2892.6,218L1984.2,1126.4M2920.6,218L2012.2,1126.4M2948.5,218L2040.1,1126.4M2976.4,218L2068.0,1126.4M3004.4,218L2096.0,1126.4M3032.3,218L2123.9,1126.4M3060.2,218L2151.8,1126.4M3088.1,218L2179.7,1126.4M3116.1,218L2207.7,1126.4M3144.0,218L2235.6,1126.4M3171.9,218L2263.5,1126.4M3199.9,218L2291.5,1126.4M3227.8,218L2319.4,1126.4M3255.7,218L2347.3,1126.4M3283.7,218L2375.2,1126.4M3311.6,218L2403.2,1126.4M3339.5,218L2431.1,1126.4M3367.4,218L2459.0,1126.4M3395.4,218L2487.0,1126.4M3423.3,218L2514.9,1126.4M3451.2,218L2542.8,1126.4M3479.2,218L2570.8,1126.4M3507.1,218L2598.7,1126.4M3535.0,218L2626.6,1126.4M3562.9,218L2654.5,1126.4M3590.9,218L2682.5,1126.4M3618.8,218L2710.4,1126.4M3646.7,218L2738.3,1126.4M3674.7,218L2766.3,1126.4"/>
<path d="M-2159.6,218L-1251.2,1126.4M-2131.7,218L-1223.3,1126.4M-2103.7,218L-1195.3,1126.4M-2075.8,218L-1167.4,1126.4M-2047.9,218L-1139.5,1126.4M-2019.9,218L-1111.5,1126.4M-1992.0,218L-1083.6,1126.4M-1964.1,218L-1055.7,1126.4M-1936.2,218L-1027.8,1126.4M-1908.2,218L-999.8,1126.4M-1880.3,218L-971.9,1126.4M-1852.4,218L-944.0,1126.4M-1824.4,218L-916.0,1126.4M-1796.5,218L-888.1,1126.4M-1768.6,218L-860.2,1126.4M-1740.7,218L-832.2,1126.4M-1712.7,218L-804.3,1126.4M-1684.8,218L-776.4,1126.4M-1656.9,218L-748.5,1126.4M-1628.9,218L-720.5,1126.4M-1601.0,218L-692.6,1126.4M-1573.1,218L-664.7,1126.4M-1545.1,218L-636.7,1126.4M-1517.2,218L-608.8,1126.4M-1489.3,218L-580.9,1126.4M-1461.4,218L-553.0,1126.4M-1433.4,218L-525.0,1126.4M-1405.5,218L-497.1,1126.4M-1377.6,218L-469.2,1126.4M-1349.6,218L-441.2,1126.4M-1321.7,218L-413.3,1126.4M-1293.8,218L-385.4,1126.4M-1265.8,218L-357.4,1126.4M-1237.9,218L-329.5,1126.4M-1210.0,218L-301.6,1126.4M-1182.0,218L-273.6,1126.4M-1154.1,218L-245.7,1126.4M-1126.2,218L-217.8,1126.4M-1098.3,218L-189.9,1126.4M-1070.3,218L-161.9,1126.4M-1042.4,218L-134.0,1126.4M-1014.5,218L-106.1,1126.4M-986.5,218L-78.1,1126.4M-958.6,218L-50.2,1126.4M-930.7,218L-22.3,1126.4M-902.8,218L5.7,1126.4M-874.8,218L33.6,1126.4M-846.9,218L61.5,1126.4M-819.0,218L89.4,1126.4M-791.0,218L117.4,1126.4M-763.1,218L145.3,1126.4M-735.2,218L173.2,1126.4M-707.2,218L201.2,1126.4M-679.3,218L229.1,1126.4M-651.4,218L257.0,1126.4M-623.5,218L285.0,1126.4M-595.5,218L312.9,1126.4M-567.6,218L340.8,1126.4M-539.7,218L368.7,1126.4M-511.7,218L396.7,1126.4M-483.8,218L424.6,1126.4M-455.9,218L452.5,1126.4M-427.9,218L480.5,1126.4M-400.0,218L508.4,1126.4M-372.1,218L536.3,1126.4M-344.1,218L564.3,1126.4M-316.2,218L592.2,1126.4M-288.3,218L620.1,1126.4M-260.4,218L648.0,1126.4M-232.4,218L676.0,1126.4M-204.5,218L703.9,1126.4M-176.6,218L731.8,1126.4M-148.6,218L759.8,1126.4M-120.7,218L787.7,1126.4M-92.8,218L815.6,1126.4M-64.9,218L843.6,1126.4M-36.9,218L871.5,1126.4M-9.0,218L899.4,1126.4M18.9,218L927.3,1126.4M46.9,218L955.3,1126.4M74.8,218L983.2,1126.4M102.7,218L1011.1,1126.4M130.7,218L1039.1,1126.4M158.6,218L1067.0,1126.4M186.5,218L1094.9,1126.4M214.5,218L1122.9,1126.4M242.4,218L1150.8,1126.4M270.3,218L1178.7,1126.4M298.2,218L1206.6,1126.4M326.2,218L1234.6,1126.4M354.1,218L1262.5,1126.4M382.0,218L1290.4,1126.4M410.0,218L1318.4,1126.4M437.9,218L1346.3,1126.4M465.8,218L1374.2,1126.4M493.8,218L1402.2,1126.4M521.7,218L1430.1,1126.4M549.6,218L1458.0,1126.4M577.5,218L1485.9,1126.4M605.5,218L1513.9,1126.4M633.4,218L1541.8,1126.4M661.3,218L1569.7,1126.4M689.3,218L1597.7,1126.4M717.2,218L1625.6,1126.4M745.1,218L1653.5,1126.4M773.0,218L1681.5,1126.4M801.0,218L1709.4,1126.4M828.9,218L1737.3,1126.4M856.8,218L1765.2,1126.4M884.8,218L1793.2,1126.4M912.7,218L1821.1,1126.4M940.6,218L1849.0,1126.4M968.6,218L1877.0,1126.4M996.5,218L1904.9,1126.4M1024.4,218L1932.8,1126.4M1052.3,218L1960.8,1126.4M1080.3,218L1988.7,1126.4M1108.2,218L2016.6,1126.4M1136.1,218L2044.5,1126.4M1164.1,218L2072.5,1126.4M1192.0,218L2100.4,1126.4M1219.9,218L2128.3,1126.4M1247.9,218L2156.3,1126.4M1275.8,218L2184.2,1126.4M1303.7,218L2212.1,1126.4M1331.6,218L2240.1,1126.4M1359.6,218L2268.0,1126.4M1387.5,218L2295.9,1126.4M1415.4,218L2323.8,1126.4M1443.4,218L2351.8,1126.4M1471.3,218L2379.7,1126.4M1499.2,218L2407.6,1126.4M1527.2,218L2435.6,1126.4M1555.1,218L2463.5,1126.4M1583.0,218L2491.4,1126.4M1611.0,218L2519.4,1126.4M1638.9,218L2547.3,1126.4M1666.8,218L2575.2,1126.4M1694.7,218L2603.1,1126.4M1722.7,218L2631.1,1126.4M1750.6,218L2659.0,1126.4M1778.5,218L2686.9,1126.4M1806.5,218L2714.9,1126.4M1834.4,218L2742.8,1126.4M1862.3,218L2770.7,1126.4M1890.2,218L2798.7,1126.4M1918.2,218L2826.6,1126.4M1946.1,218L2854.5,1126.4M1974.0,218L2882.4,1126.4M2002.0,218L2910.4,1126.4M2029.9,218L2938.3,1126.4M2057.8,218L2966.2,1126.4M2085.8,218L2994.2,1126.4M2113.7,218L3022.1,1126.4M2141.6,218L3050.0,1126.4M2169.6,218L3077.9,1126.4M2197.5,218L3105.9,1126.4M2225.4,218L3133.8,1126.4M2253.3,218L3161.7,1126.4M2281.3,218L3189.7,1126.4"/>
</g>
<clipPath id="pc2"><rect x="1377.8" y="215.5" width="560.6" height="910.9000000000001"/></clipPath>
<rect x="1377.8" y="215.5" width="560.6" height="910.9000000000001" fill="#A6611A"/>
<polygon points="1377.8,215.5 1402.3,215.5 1400.9,222.6 1392.4,229.6 1409.3,236.7 1417.7,240.9 1431.7,249.3 1445.8,255.0 1451.4,260.5 1482.2,266.0 1499.0,270.3 1490.7,276.0 1527.0,283.0 1580.5,291.4 1650.6,297.0 1687.0,302.6 1720.8,308.2 1748.8,316.6 1785.3,320.8 1799.3,325.0 1810.5,336.3 1830.2,347.5 1835.8,353.0 1830.2,357.3 1847.0,364.3 1866.7,368.4 1875.0,376.8 1883.5,388.0 1892.0,399.3 1889.0,410.5 1897.5,430.0 1875.0,435.8 1805.0,447.0 1785.3,455.4 1765.6,466.6 1790.9,477.9 1782.5,489.0 1782.5,497.5 1805.0,508.7 1838.6,518.4 1805.0,526.8 1774.0,538.0 1734.8,549.3 1684.3,560.5 1647.8,574.5 1653.4,583.0 1645.0,594.2 1653.4,602.6 1636.6,611.0 1614.0,622.2 1600.0,636.3 1605.7,647.5 1678.7,656.0 1790.9,667.0 1875.0,674.0 1894.7,680.0 1875.0,685.3 1900.3,693.7 1920.0,707.7 1917.2,730.0 1920.0,744.2 1917.2,758.2 1900.3,766.6 1908.7,777.9 1911.5,794.7 1914.4,811.5 1908.7,826.8 1914.4,843.7 1903.0,857.7 1880.7,863.3 1847.0,874.5 1790.9,883.0 1762.8,894.2 1776.9,905.4 1774.0,916.6 1774.0,927.8 1762.8,939.0 1788.0,950.3 1765.6,958.7 1780.0,962.0 1847.0,968.4 1894.7,981.0 1877.9,988.0 1897.5,1000.7 1894.7,1010.5 1849.8,1019.0 1796.5,1027.3 1816.2,1041.4 1782.5,1049.8 1796.5,1056.8 1726.4,1066.6 1743.2,1073.6 1594.5,1083.5 1706.7,1091.9 1793.7,1100.3 1776.9,1106.0 1835.8,1113.0 1799.3,1118.5 1869.5,1124.0 1880.0,1126.0 1377.8,1126.0" fill="#DFC27D" />
<polygon points="1377.8,215.5 1377.8,215.5 1377.8,236.0 1384.0,238.0 1384.0,255.0 1385.0,263.0 1398.0,270.0 1385.0,277.0 1384.0,288.6 1395.0,294.0 1423.3,305.4 1465.4,316.6 1501.9,322.2 1521.5,333.5 1560.8,341.9 1591.7,350.3 1617.0,358.7 1647.8,367.0 1670.2,372.6 1664.6,383.9 1639.4,390.9 1614.0,399.3 1577.6,410.5 1544.0,421.7 1527.0,435.8 1501.9,449.8 1504.7,461.0 1487.9,472.2 1462.6,483.5 1443.0,500.3 1451.4,517.0 1445.8,528.4 1451.0,538.0 1440.0,552.0 1423.0,569.0 1443.0,583.0 1434.0,594.2 1443.0,605.4 1437.0,622.2 1460.0,639.0 1434.0,653.0 1445.0,667.0 1462.6,676.8 1538.4,693.7 1566.4,705.0 1636.6,721.7 1734.8,738.6 1779.7,747.0 1796.5,756.8 1793.7,766.6 1785.3,777.9 1757.2,786.3 1734.8,797.5 1706.7,808.7 1692.7,817.1 1650.6,825.5 1622.5,838.0 1552.4,849.3 1527.0,860.5 1482.2,871.7 1454.2,883.0 1457.0,894.2 1443.0,908.2 1468.2,922.2 1445.8,930.7 1437.3,944.7 1445.8,956.0 1443.0,967.0 1454.2,974.0 1471.0,985.3 1496.3,999.3 1518.7,1006.3 1504.7,1016.0 1516.0,1024.5 1583.3,1031.6 1566.4,1041.4 1538.4,1052.6 1552.4,1059.6 1510.3,1066.6 1490.7,1073.6 1426.1,1080.7 1437.3,1092.0 1468.2,1103.0 1538.4,1113.0 1569.2,1121.3 1575.0,1126.0 1377.8,1126.0" fill="#80CDC1" />
<polygon points="1377.8,215.5 1377.8,215.5 1379.8,291.4 1395.3,302.6 1426.1,311.0 1454.2,319.4 1479.4,327.9 1501.9,336.3 1530.0,344.7 1558.0,353.1 1591.7,361.5 1631.0,371.2 1642.2,383.9 1622.5,390.9 1594.5,399.3 1566.4,410.5 1535.6,421.7 1527.0,433.0 1501.9,444.2 1499.0,455.4 1487.9,466.6 1471.0,477.9 1451.4,489.0 1434.5,500.3 1437.3,511.5 1443.0,522.7 1445.8,538.0 1434.5,552.0 1417.7,569.0 1437.3,583.0 1429.0,594.2 1437.3,605.4 1431.7,622.2 1454.2,639.0 1429.0,653.0 1440.0,667.0 1454.2,674.0 1496.3,688.0 1544.0,702.0 1608.5,716.0 1664.6,727.3 1720.8,738.6 1762.8,747.0 1785.3,756.8 1782.5,766.6 1768.4,775.0 1740.4,786.3 1706.7,794.7 1664.6,806.0 1664.6,814.3 1636.6,822.7 1594.5,838.0 1538.4,849.3 1482.0,860.5 1459.8,871.7 1437.3,885.8 1426.0,899.8 1426.0,913.8 1437.3,922.2 1429.0,933.5 1412.0,944.7 1403.7,956.0 1409.3,967.0 1415.0,971.2 1437.3,982.4 1445.8,996.5 1493.5,1005.0 1471.0,1013.3 1510.3,1024.5 1566.4,1031.6 1541.0,1041.4 1524.3,1049.8 1521.5,1058.2 1496.3,1065.2 1437.3,1070.8 1457.0,1077.8 1417.7,1083.5 1429.0,1094.7 1459.8,1103.0 1496.3,1111.5 1552.4,1120.0 1570.0,1126.0 1377.8,1126.0" fill="#018571" />
<clipPath id="hc2"><polygon points="1377.8,306.0 1377.8,306.0 1387.0,310.0 1387.0,380.0 1395.0,383.0 1395.0,396.0 1420.0,405.0 1440.0,420.0 1451.0,444.0 1400.0,450.0 1387.0,460.0 1387.0,528.0 1390.0,538.0 1390.0,549.0 1380.0,600.0 1409.0,614.0 1409.0,642.0 1398.0,650.0 1398.0,661.0 1454.0,665.6 1561.0,675.4 1651.0,686.7 1763.0,695.0 1847.0,700.7 1920.0,706.3 1833.0,709.0 1679.0,714.7 1614.0,720.3 1552.0,726.0 1505.0,733.0 1440.0,741.4 1406.0,747.0 1387.0,752.6 1377.8,758.0 1377.8,764.0 1381.0,766.6 1418.0,775.0 1622.0,808.7 1726.0,845.0 1768.0,859.0 1825.0,874.0 1715.0,884.4 1608.0,894.2 1583.0,905.4 1491.0,926.4 1434.0,944.7 1387.0,978.4 1440.0,1000.0 1507.0,1010.5 1474.0,1027.3 1387.0,1031.6 1377.8,1040.0 1377.8,1040.0"/></clipPath>
<path d="M-143.8,218L-1052.2,1126.4M-129.8,218L-1038.2,1126.4M-115.9,218L-1024.3,1126.4M-102.0,218L-1010.4,1126.4M-88.0,218L-996.4,1126.4M-74.1,218L-982.5,1126.4M-60.1,218L-968.5,1126.4M-46.2,218L-954.6,1126.4M-32.2,218L-940.6,1126.4M-18.2,218L-926.7,1126.4M-4.3,218L-912.7,1126.4M9.7,218L-898.8,1126.4M23.6,218L-884.8,1126.4M37.5,218L-870.9,1126.4M51.5,218L-856.9,1126.4M65.4,218L-843.0,1126.4M79.4,218L-829.0,1126.4M93.3,218L-815.1,1126.4M107.3,218L-801.1,1126.4M121.2,218L-787.2,1126.4M135.2,218L-773.2,1126.4M149.1,218L-759.3,1126.4M163.1,218L-745.3,1126.4M177.0,218L-731.4,1126.4M191.0,218L-717.4,1126.4M204.9,218L-703.5,1126.4M218.9,218L-689.5,1126.4M232.8,218L-675.6,1126.4M246.8,218L-661.6,1126.4M260.8,218L-647.7,1126.4M274.7,218L-633.7,1126.4M288.6,218L-619.8,1126.4M302.6,218L-605.8,1126.4M316.5,218L-591.9,1126.4M330.5,218L-577.9,1126.4M344.4,218L-564.0,1126.4M358.4,218L-550.0,1126.4M372.3,218L-536.1,1126.4M386.3,218L-522.1,1126.4M400.2,218L-508.2,1126.4M414.2,218L-494.2,1126.4M428.1,218L-480.3,1126.4M442.1,218L-466.3,1126.4M456.0,218L-452.4,1126.4M470.0,218L-438.4,1126.4M483.9,218L-424.5,1126.4M497.9,218L-410.5,1126.4M511.8,218L-396.6,1126.4M525.8,218L-382.6,1126.4M539.8,218L-368.7,1126.4M553.7,218L-354.7,1126.4M567.6,218L-340.8,1126.4M581.6,218L-326.8,1126.4M595.5,218L-312.9,1126.4M609.5,218L-298.9,1126.4M623.4,218L-285.0,1126.4M637.4,218L-271.0,1126.4M651.3,218L-257.1,1126.4M665.3,218L-243.1,1126.4M679.2,218L-229.2,1126.4M693.2,218L-215.2,1126.4M707.1,218L-201.3,1126.4M721.1,218L-187.3,1126.4M735.0,218L-173.4,1126.4M749.0,218L-159.4,1126.4M762.9,218L-145.5,1126.4M776.9,218L-131.5,1126.4M790.8,218L-117.6,1126.4M804.8,218L-103.6,1126.4M818.7,218L-89.7,1126.4M832.7,218L-75.7,1126.4M846.6,218L-61.8,1126.4M860.6,218L-47.8,1126.4M874.5,218L-33.9,1126.4M888.5,218L-19.9,1126.4M902.4,218L-6.0,1126.4M916.4,218L8.0,1126.4M930.3,218L21.9,1126.4M944.3,218L35.9,1126.4M958.2,218L49.8,1126.4M972.2,218L63.8,1126.4M986.1,218L77.7,1126.4M1000.1,218L91.7,1126.4M1014.0,218L105.6,1126.4M1028.0,218L119.6,1126.4M1041.9,218L133.5,1126.4M1055.9,218L147.5,1126.4M1069.8,218L161.4,1126.4M1083.8,218L175.4,1126.4M1097.8,218L189.3,1126.4M1111.7,218L203.3,1126.4M1125.6,218L217.2,1126.4M1139.6,218L231.2,1126.4M1153.5,218L245.1,1126.4M1167.5,218L259.1,1126.4M1181.4,218L273.0,1126.4M1195.4,218L287.0,1126.4M1209.3,218L300.9,1126.4M1223.3,218L314.9,1126.4M1237.2,218L328.8,1126.4M1251.2,218L342.8,1126.4M1265.1,218L356.7,1126.4M1279.1,218L370.7,1126.4M1293.0,218L384.6,1126.4M1307.0,218L398.6,1126.4M1320.9,218L412.5,1126.4M1334.9,218L426.5,1126.4M1348.8,218L440.4,1126.4M1362.8,218L454.4,1126.4M1376.8,218L468.3,1126.4M1390.7,218L482.3,1126.4M1404.6,218L496.2,1126.4M1418.6,218L510.2,1126.4M1432.5,218L524.1,1126.4M1446.5,218L538.1,1126.4M1460.4,218L552.0,1126.4M1474.4,218L566.0,1126.4M1488.3,218L579.9,1126.4M1502.3,218L593.9,1126.4M1516.2,218L607.8,1126.4M1530.2,218L621.8,1126.4M1544.1,218L635.7,1126.4M1558.1,218L649.7,1126.4M1572.0,218L663.6,1126.4M1586.0,218L677.6,1126.4M1599.9,218L691.5,1126.4M1613.9,218L705.5,1126.4M1627.8,218L719.4,1126.4M1641.8,218L733.4,1126.4M1655.7,218L747.3,1126.4M1669.7,218L761.3,1126.4M1683.6,218L775.2,1126.4M1697.6,218L789.2,1126.4M1711.5,218L803.1,1126.4M1725.5,218L817.1,1126.4M1739.4,218L831.0,1126.4M1753.4,218L845.0,1126.4M1767.3,218L858.9,1126.4M1781.3,218L872.9,1126.4M1795.2,218L886.8,1126.4M1809.2,218L900.8,1126.4M1823.1,218L914.7,1126.4M1837.1,218L928.7,1126.4M1851.0,218L942.6,1126.4M1865.0,218L956.6,1126.4M1878.9,218L970.5,1126.4M1892.9,218L984.5,1126.4M1906.8,218L998.4,1126.4M1920.8,218L1012.4,1126.4M1934.8,218L1026.3,1126.4M1948.7,218L1040.3,1126.4M1962.6,218L1054.2,1126.4M1976.6,218L1068.2,1126.4M1990.5,218L1082.1,1126.4M2004.5,218L1096.1,1126.4M2018.4,218L1110.0,1126.4M2032.4,218L1124.0,1126.4M2046.3,218L1137.9,1126.4M2060.3,218L1151.9,1126.4M2074.2,218L1165.8,1126.4M2088.2,218L1179.8,1126.4M2102.1,218L1193.7,1126.4M2116.1,218L1207.7,1126.4M2130.0,218L1221.6,1126.4M2144.0,218L1235.6,1126.4M2157.9,218L1249.5,1126.4M2171.9,218L1263.5,1126.4M2185.8,218L1277.4,1126.4M2199.8,218L1291.4,1126.4M2213.8,218L1305.3,1126.4M2227.7,218L1319.3,1126.4M2241.6,218L1333.2,1126.4M2255.6,218L1347.2,1126.4M2269.5,218L1361.1,1126.4M2283.5,218L1375.1,1126.4M2297.4,218L1389.0,1126.4M2311.4,218L1403.0,1126.4M2325.3,218L1416.9,1126.4M2339.3,218L1430.9,1126.4M2353.2,218L1444.8,1126.4M2367.2,218L1458.8,1126.4M2381.1,218L1472.7,1126.4M2395.1,218L1486.7,1126.4M2409.0,218L1500.6,1126.4M2423.0,218L1514.6,1126.4M2436.9,218L1528.5,1126.4M2450.9,218L1542.5,1126.4M2464.8,218L1556.4,1126.4M2478.8,218L1570.4,1126.4M2492.8,218L1584.3,1126.4M2506.7,218L1598.3,1126.4M2520.6,218L1612.2,1126.4M2534.6,218L1626.2,1126.4M2548.5,218L1640.1,1126.4M2562.5,218L1654.1,1126.4M2576.4,218L1668.0,1126.4M2590.4,218L1682.0,1126.4M2604.3,218L1695.9,1126.4M2618.3,218L1709.9,1126.4M2632.2,218L1723.8,1126.4M2646.2,218L1737.8,1126.4M2660.1,218L1751.7,1126.4M2674.1,218L1765.7,1126.4M2688.0,218L1779.6,1126.4M2702.0,218L1793.6,1126.4M2715.9,218L1807.5,1126.4M2729.9,218L1821.5,1126.4M2743.8,218L1835.4,1126.4M2757.8,218L1849.4,1126.4M2771.8,218L1863.3,1126.4M2785.7,218L1877.3,1126.4M2799.6,218L1891.2,1126.4M2813.6,218L1905.2,1126.4M2827.5,218L1919.1,1126.4M2841.5,218L1933.1,1126.4M2855.4,218L1947.0,1126.4M2869.4,218L1961.0,1126.4M2883.3,218L1974.9,1126.4M2897.3,218L1988.9,1126.4M2911.2,218L2002.8,1126.4M2925.2,218L2016.8,1126.4M2939.1,218L2030.7,1126.4M2953.1,218L2044.7,1126.4M2967.0,218L2058.6,1126.4M2981.0,218L2072.6,1126.4M2994.9,218L2086.5,1126.4M3008.9,218L2100.5,1126.4M3022.8,218L2114.4,1126.4M3036.8,218L2128.4,1126.4M3050.8,218L2142.3,1126.4M3064.7,218L2156.3,1126.4M3078.6,218L2170.2,1126.4M3092.6,218L2184.2,1126.4M3106.5,218L2198.1,1126.4M3120.5,218L2212.1,1126.4M3134.4,218L2226.0,1126.4M3148.4,218L2240.0,1126.4M3162.3,218L2253.9,1126.4M3176.3,218L2267.9,1126.4M3190.2,218L2281.8,1126.4M3204.2,218L2295.8,1126.4M3218.1,218L2309.7,1126.4M3232.1,218L2323.7,1126.4M3246.0,218L2337.6,1126.4M3260.0,218L2351.6,1126.4M3273.9,218L2365.5,1126.4M3287.9,218L2379.5,1126.4M3301.8,218L2393.4,1126.4M3315.8,218L2407.4,1126.4M3329.8,218L2421.3,1126.4M3343.7,218L2435.3,1126.4M3357.6,218L2449.2,1126.4M3371.6,218L2463.2,1126.4M3385.5,218L2477.1,1126.4M3399.5,218L2491.1,1126.4M3413.4,218L2505.0,1126.4M3427.4,218L2519.0,1126.4M3441.3,218L2532.9,1126.4M3455.3,218L2546.9,1126.4M3469.2,218L2560.8,1126.4M3483.2,218L2574.8,1126.4M3497.1,218L2588.7,1126.4M3511.1,218L2602.7,1126.4M3525.0,218L2616.6,1126.4M3539.0,218L2630.6,1126.4M3552.9,218L2644.5,1126.4M3566.9,218L2658.5,1126.4M3580.8,218L2672.4,1126.4M3594.8,218L2686.4,1126.4M3608.8,218L2700.3,1126.4M3622.7,218L2714.3,1126.4M3636.6,218L2728.2,1126.4M3650.6,218L2742.2,1126.4M3664.5,218L2756.1,1126.4M3678.5,218L2770.1,1126.4M3692.4,218L2784.0,1126.4M3706.4,218L2798.0,1126.4M3720.3,218L2811.9,1126.4M3734.3,218L2825.9,1126.4M3748.2,218L2839.8,1126.4M3762.2,218L2853.8,1126.4M3776.1,218L2867.7,1126.4M3790.1,218L2881.7,1126.4M3804.0,218L2895.6,1126.4M3818.0,218L2909.6,1126.4M3831.9,218L2923.5,1126.4M3845.9,218L2937.5,1126.4M3859.8,218L2951.4,1126.4M3873.8,218L2965.4,1126.4M3887.8,218L2979.3,1126.4M3901.7,218L2993.3,1126.4M3915.6,218L3007.2,1126.4M3929.6,218L3021.2,1126.4M3943.5,218L3035.1,1126.4M3957.5,218L3049.1,1126.4M3971.4,218L3063.0,1126.4M3985.4,218L3077.0,1126.4M3999.3,218L3090.9,1126.4M4013.3,218L3104.9,1126.4M4027.2,218L3118.8,1126.4M4041.2,218L3132.8,1126.4M4055.1,218L3146.7,1126.4M4069.1,218L3160.7,1126.4M4083.0,218L3174.6,1126.4M4097.0,218L3188.6,1126.4M4110.9,218L3202.5,1126.4M4124.9,218L3216.5,1126.4M4138.9,218L3230.5,1126.4M4152.8,218L3244.4,1126.4M4166.8,218L3258.3,1126.4M4180.7,218L3272.3,1126.4M4194.6,218L3286.2,1126.4M4208.6,218L3300.2,1126.4M4222.5,218L3314.1,1126.4M4236.5,218L3328.1,1126.4M4250.4,218L3342.0,1126.4M4264.4,218L3356.0,1126.4M4278.4,218L3370.0,1126.4M4292.3,218L3383.9,1126.4M4306.2,218L3397.8,1126.4" stroke="#000" stroke-width="3" fill="none" clip-path="url(#hc2)"/>
<path d="M138.7,214.6H699.3" stroke="#000" stroke-width="3.2"/>
<path d="M138.7,213.1V1126.4H699.3V213.1" stroke="#000" stroke-width="2.7" fill="none" stroke-linecap="round"/>
<path d="M138.7,214.6V194M250.8,214.6V194M362.9,214.6V194M475.1,214.6V194M587.2,214.6V194M699.3,214.6V194" stroke="#000" stroke-width="2.7" fill="none" stroke-linecap="round"/>
<text x="138.7" y="167.8" font-size="33" text-anchor="middle">0</text>
<text x="250.8" y="167.8" font-size="33" text-anchor="middle">20</text>
<text x="362.9" y="167.8" font-size="33" text-anchor="middle">40</text>
<text x="475.1" y="167.8" font-size="33" text-anchor="middle">60</text>
<text x="587.2" y="167.8" font-size="33" text-anchor="middle">80</text>
<text x="699.3" y="167.8" font-size="33" text-anchor="middle">100</text>
<path d="M138.7,1055.6H118.69999999999999M699.3,1055.6H719.3M138.7,957.6H118.69999999999999M699.3,957.6H719.3M138.7,859.7H118.69999999999999M699.3,859.7H719.3M138.7,761.7H118.69999999999999M699.3,761.7H719.3M138.7,663.7H118.69999999999999M699.3,663.7H719.3M138.7,565.8H118.69999999999999M699.3,565.8H719.3M138.7,467.8H118.69999999999999M699.3,467.8H719.3M138.7,369.8H118.69999999999999M699.3,369.8H719.3M138.7,271.9H118.69999999999999M699.3,271.9H719.3" stroke="#000" stroke-width="2.7" fill="none" stroke-linecap="round"/>
<path d="M758.2,214.6H1318.8000000000002" stroke="#000" stroke-width="3.2"/>
<path d="M758.2,213.1V1126.4H1318.8000000000002V213.1" stroke="#000" stroke-width="2.7" fill="none" stroke-linecap="round"/>
<path d="M758.2,214.6V194M870.3,214.6V194M982.4,214.6V194M1094.6,214.6V194M1206.7,214.6V194M1318.8,214.6V194" stroke="#000" stroke-width="2.7" fill="none" stroke-linecap="round"/>
<text x="758.2" y="167.8" font-size="33" text-anchor="middle">0</text>
<text x="870.3" y="167.8" font-size="33" text-anchor="middle">20</text>
<text x="982.4" y="167.8" font-size="33" text-anchor="middle">40</text>
<text x="1094.6" y="167.8" font-size="33" text-anchor="middle">60</text>
<text x="1206.7" y="167.8" font-size="33" text-anchor="middle">80</text>
<text x="1318.8" y="167.8" font-size="33" text-anchor="middle">100</text>
<path d="M758.2,1055.6H738.2M1318.8000000000002,1055.6H1338.8000000000002M758.2,957.6H738.2M1318.8000000000002,957.6H1338.8000000000002M758.2,859.7H738.2M1318.8000000000002,859.7H1338.8000000000002M758.2,761.7H738.2M1318.8000000000002,761.7H1338.8000000000002M758.2,663.7H738.2M1318.8000000000002,663.7H1338.8000000000002M758.2,565.8H738.2M1318.8000000000002,565.8H1338.8000000000002M758.2,467.8H738.2M1318.8000000000002,467.8H1338.8000000000002M758.2,369.8H738.2M1318.8000000000002,369.8H1338.8000000000002M758.2,271.9H738.2M1318.8000000000002,271.9H1338.8000000000002" stroke="#000" stroke-width="2.7" fill="none" stroke-linecap="round"/>
<path d="M758.2,1126.4V1147M870.3,1126.4V1147M982.4,1126.4V1147M1094.6,1126.4V1147M1206.7,1126.4V1147M1318.8,1126.4V1147" stroke="#000" stroke-width="2.7" fill="none" stroke-linecap="round"/>
<text x="758.2" y="1196" font-size="33" text-anchor="middle">0</text>
<text x="870.3" y="1196" font-size="33" text-anchor="middle">4</text>
<text x="982.4" y="1196" font-size="33" text-anchor="middle">8</text>
<text x="1094.6" y="1196" font-size="33" text-anchor="middle">12</text>
<text x="1206.7" y="1196" font-size="33" text-anchor="middle">16</text>
<text x="1318.8" y="1196" font-size="33" text-anchor="middle">20</text>
<path d="M1377.8,214.6H1938.4" stroke="#000" stroke-width="3.2"/>
<path d="M1377.8,213.1V1126.4H1938.4V213.1" stroke="#000" stroke-width="2.7" fill="none" stroke-linecap="round"/>
<path d="M1377.8,214.6V194M1489.9,214.6V194M1602.0,214.6V194M1714.2,214.6V194M1826.3,214.6V194M1938.4,214.6V194" stroke="#000" stroke-width="2.7" fill="none" stroke-linecap="round"/>
<text x="1377.8" y="167.8" font-size="33" text-anchor="middle">0</text>
<text x="1489.9" y="167.8" font-size="33" text-anchor="middle">20</text>
<text x="1602.0" y="167.8" font-size="33" text-anchor="middle">40</text>
<text x="1714.2" y="167.8" font-size="33" text-anchor="middle">60</text>
<text x="1826.3" y="167.8" font-size="33" text-anchor="middle">80</text>
<text x="1938.4" y="167.8" font-size="33" text-anchor="middle">100</text>
<path d="M1377.8,1055.6H1357.8M1938.4,1055.6H1958.4M1377.8,957.6H1357.8M1938.4,957.6H1958.4M1377.8,859.7H1357.8M1938.4,859.7H1958.4M1377.8,761.7H1357.8M1938.4,761.7H1958.4M1377.8,663.7H1357.8M1938.4,663.7H1958.4M1377.8,565.8H1357.8M1938.4,565.8H1958.4M1377.8,467.8H1357.8M1938.4,467.8H1958.4M1377.8,369.8H1357.8M1938.4,369.8H1958.4M1377.8,271.9H1357.8M1938.4,271.9H1958.4" stroke="#000" stroke-width="2.7" fill="none" stroke-linecap="round"/>
<path d="M1377.8,1126.4V1147M1489.9,1126.4V1147M1602.0,1126.4V1147M1714.2,1126.4V1147M1826.3,1126.4V1147M1938.4,1126.4V1147" stroke="#000" stroke-width="2.7" fill="none" stroke-linecap="round"/>
<text x="1377.8" y="1196" font-size="33" text-anchor="middle">0</text>
<text x="1489.9" y="1196" font-size="33" text-anchor="middle">4</text>
<text x="1602.0" y="1196" font-size="33" text-anchor="middle">8</text>
<text x="1714.2" y="1196" font-size="33" text-anchor="middle">12</text>
<text x="1826.3" y="1196" font-size="33" text-anchor="middle">16</text>
<text x="1938.4" y="1196" font-size="33" text-anchor="middle">20</text>
<text transform="translate(91.6,1055.6) rotate(-90)" font-size="33" text-anchor="middle">-45</text>
<text transform="translate(2008.2,1055.6) rotate(-90)" font-size="33" text-anchor="middle">-45</text>
<text transform="translate(91.6,957.6) rotate(-90)" font-size="33" text-anchor="middle">-30</text>
<text transform="translate(2008.2,957.6) rotate(-90)" font-size="33" text-anchor="middle">-30</text>
<text transform="translate(91.6,859.7) rotate(-90)" font-size="33" text-anchor="middle">-15</text>
<text transform="translate(2008.2,859.7) rotate(-90)" font-size="33" text-anchor="middle">-15</text>
<text transform="translate(91.6,761.7) rotate(-90)" font-size="33" text-anchor="middle">0</text>
<text transform="translate(2008.2,761.7) rotate(-90)" font-size="33" text-anchor="middle">0</text>
<text transform="translate(91.6,663.7) rotate(-90)" font-size="33" text-anchor="middle">15</text>
<text transform="translate(2008.2,663.7) rotate(-90)" font-size="33" text-anchor="middle">15</text>
<text transform="translate(91.6,565.8) rotate(-90)" font-size="33" text-anchor="middle">30</text>
<text transform="translate(2008.2,565.8) rotate(-90)" font-size="33" text-anchor="middle">30</text>
<text transform="translate(91.6,467.8) rotate(-90)" font-size="33" text-anchor="middle">45</text>
<text transform="translate(2008.2,467.8) rotate(-90)" font-size="33" text-anchor="middle">45</text>
<text transform="translate(91.6,369.8) rotate(-90)" font-size="33" text-anchor="middle">60</text>
<text transform="translate(2008.2,369.8) rotate(-90)" font-size="33" text-anchor="middle">60</text>
<text transform="translate(91.6,271.9) rotate(-90)" font-size="33" text-anchor="middle">75</text>
<text transform="translate(2008.2,271.9) rotate(-90)" font-size="33" text-anchor="middle">75</text>
<text transform="translate(54,669.4) rotate(-90)" font-size="50" text-anchor="middle">Latitude</text>
<text transform="translate(2049.8,669.4) rotate(-90)" font-size="50" text-anchor="middle">Latitude</text>
<text x="419.0" y="55.2" font-size="50" font-weight="bold" text-anchor="middle">Model without fire</text>
<text x="1038.5" y="55.2" font-size="50" font-weight="bold" text-anchor="middle">Model with fire</text>
<text x="1658.1" y="55.2" font-size="50" font-weight="bold" text-anchor="middle">CCI observations</text>
<text x="1037.7" y="125" font-size="49" text-anchor="middle">Vegetation cover (%)</text>
<text x="1038.8" y="1239.6" font-size="49.5" text-anchor="middle">Burnt area (%)</text>
<clipPath id="lc"><rect x="0" y="1301.8" width="2067" height="41.6"/></clipPath>
<circle cx="687.3" cy="1322.6" r="23.8" fill="#018571" clip-path="url(#lc)"/>
<text x="723.2" y="1338.3" font-size="43">Tree</text>
<circle cx="877.4" cy="1322.6" r="23.8" fill="#80CDC1" clip-path="url(#lc)"/>
<text x="914.0" y="1338.3" font-size="43">Shrub</text>
<circle cx="1066.9" cy="1322.6" r="23.8" fill="#DFC27D" clip-path="url(#lc)"/>
<text x="1104.2" y="1338.3" font-size="43">Grass</text>
<circle cx="1256.7" cy="1322.6" r="23.8" fill="#A6611A" clip-path="url(#lc)"/>
<text x="1294.7" y="1338.3" font-size="43">Bare</text>
</svg></body></html>
